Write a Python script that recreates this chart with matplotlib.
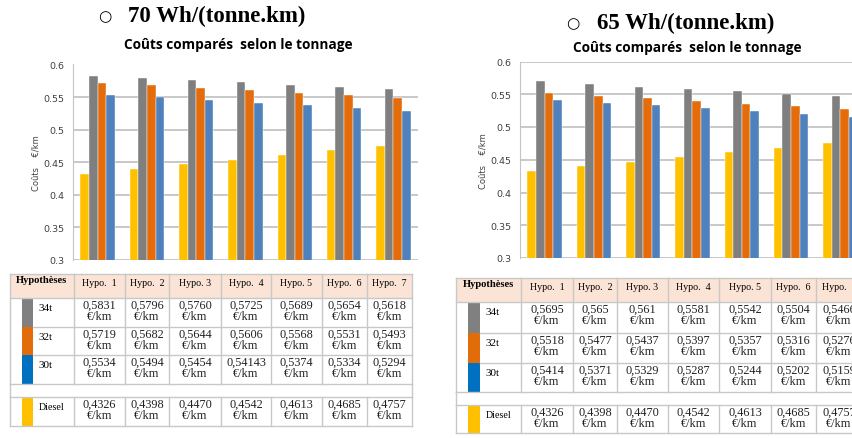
import numpy as np
import matplotlib
matplotlib.use("Agg")
import matplotlib.pyplot as plt
from matplotlib.patches import Rectangle

W, H = 853, 439

hypos = ["Hypo.  1", "Hypo.  2", "Hypo. 3", "Hypo.  4", "Hypo. 5", "Hypo.  6", "Hypo.  7"]
row_names = ["34t", "32t", "30t", "Diesel"]

# table texts (values are read from them)
t70_34 = ["0,5831", "0,5796", "0,5760", "0,5725", "0,5689", "0,5654", "0,5618"]
t70_32 = ["0,5719", "0,5682", "0,5644", "0,5606", "0,5568", "0,5531", "0,5493"]
t70_30 = ["0,5534", "0,5494", "0,5454", "0,54143", "0,5374", "0,5334", "0,5294"]
t_diesel = ["0,4326", "0,4398", "0,4470", "0,4542", "0,4613", "0,4685", "0,4757"]
t65_34 = ["0,5695", "0,565", "0,561", "0,5581", "0,5542", "0,5504", "0,5466"]
t65_32 = ["0,5518", "0,5477", "0,5437", "0,5397", "0,5357", "0,5316", "0,5276"]
t65_30 = ["0,5414", "0,5371", "0,5329", "0,5287", "0,5244", "0,5202", "0,5159"]

bar_cols = {"Diesel": "#ffc000", "34t": "#7f7f7f", "32t": "#e46c0a", "30t": "#4f81bd"}
swatch_cols = ["#808080", "#e36c0a", "#0070c0", "#ffc000"]


def num(lst):
    return [float(s.replace(",", ".")) for s in lst]


fig = plt.figure(figsize=(W / 100, H / 100), dpi=100)
fig.patch.set_facecolor("white")


def px_axes(x0, y0, x1, y1):
    return fig.add_axes([x0 / W, 1 - y1 / H, (x1 - x0) / W, (y1 - y0) / H])


def draw_chart(ax, s34, s32, s30, sd):
    x = np.arange(len(hypos)) + 0.5
    w = 0.175
    series = [("Diesel", sd), ("34t", s34), ("32t", s32), ("30t", s30)]
    for k, (name, vals) in enumerate(series):
        ax.bar(x + (k - 1.5) * w, num(vals), w, color=bar_cols[name],
               edgecolor="white", linewidth=0.3, zorder=3)
    ax.set_xlim(0, len(hypos))
    ax.set_ylim(0.3, 0.6)
    ax.set_yticks([0.3, 0.35, 0.4, 0.45, 0.5, 0.55, 0.6])
    ax.set_yticklabels(["0.3", "0.35", "0.4", "0.45", "0.5", "0.55", "0.6"])
    ax.set_xticks([])
    ax.grid(axis="y", color="#c4c4c4", linewidth=1.3, zorder=0)
    for s in ["top", "right", "bottom"]:
        ax.spines[s].set_visible(False)
    ax.spines["left"].set_color("#c4c4c4")
    ax.tick_params(axis="y", length=0, labelsize=6.8, pad=6, colors="#404040")
    ax.set_ylabel("Coûts    €/km", fontsize=6, color="#404040", labelpad=2)


ax1 = px_axes(73, 65.5, 418, 261)
draw_chart(ax1, t70_34, t70_32, t70_30, t_diesel)
ax2 = px_axes(520, 62.5, 865, 259)
draw_chart(ax2, t65_34, t65_32, t65_30, t_diesel)

# overlay for titles and tables, pixel coordinates
ov = fig.add_axes([0, 0, 1, 1])
ov.set_xlim(0, W)
ov.set_ylim(H, 0)
ov.axis("off")
ov.patch.set_alpha(0)

ov.text(105, 17, "○", fontsize=11, ha="center", va="center", family="DejaVu Sans")
ov.text(128, 16, "70 Wh/(tonne.km)", fontsize=16.5, fontweight="bold",
        family="Liberation Serif", ha="left", va="center")
ov.text(573, 24, "○", fontsize=11, ha="center", va="center", family="DejaVu Sans")
ov.text(597, 23, "65 Wh/(tonne.km)", fontsize=16.5, fontweight="bold",
        family="Liberation Serif", ha="left", va="center")
ov.text(238, 45, "Coûts comparés  selon le tonnage", fontsize=9.8, fontweight="bold",
        family="Open Sans", ha="center", va="center")
ov.text(687, 48, "Coûts comparés  selon le tonnage", fontsize=9.8, fontweight="bold",
        family="Open Sans", ha="center", va="center")


def draw_table(xs, ys, sw, rows):
    lc = "#c8c8c8"
    x0, x1 = xs[0], xs[-1]
    # header fill
    ov.add_patch(Rectangle((x0, ys[0]), x1 - x0, ys[1] - ys[0], facecolor="#fbe4d5",
                           edgecolor="none"))
    # horizontal lines
    for i, y in enumerate(ys):
        start = x0 if i in (0, 1, 4, 5, 6) else sw[1]
        ov.plot([start, x1], [y, y], color=lc, lw=1)
    # vertical lines
    for x in xs:
        ov.plot([x, x], [ys[0], ys[4]], color=lc, lw=1)
        ov.plot([x, x], [ys[5], ys[6]], color=lc, lw=1)
    ov.plot([x0, x0], [ys[4], ys[5]], color=lc, lw=1)
    ov.plot([x1, x1], [ys[4], ys[5]], color=lc, lw=1)
    # header texts
    ov.text((xs[0] + xs[1]) / 2, ys[0] + 6, "Hypothèses", fontsize=7.6, fontweight="bold",
            family="Liberation Serif", ha="center", va="center")
    for j, h in enumerate(hypos):
        ov.text((xs[j + 1] + xs[j + 2]) / 2, ys[0] + 9, h, fontsize=7.2,
                family="Liberation Serif", ha="center", va="center")
    # body
    row_spans = [(ys[1], ys[2]), (ys[2], ys[3]), (ys[3], ys[4]), (ys[5], ys[6])]
    for r, (name, vals) in enumerate(zip(row_names, rows)):
        ya, yb = row_spans[r]
        ov.add_patch(Rectangle((sw[0], ya), sw[1] - sw[0], yb - ya,
                               facecolor=swatch_cols[r], edgecolor="none"))
        ov.text(sw[1] + 6, ya + 10, name, fontsize=8 if name != "Diesel" else 7.2,
                family="Liberation Serif", ha="left", va="center")
        for j, v in enumerate(vals):
            cx = (xs[j + 1] + xs[j + 2]) / 2
            ov.text(cx, ya + 7, v, fontsize=8.8, family="Liberation Serif",
                    ha="center", va="center", color="#222222")
            ov.text(cx, ya + 18, "€/km", fontsize=8.8, family="Liberation Serif",
                    ha="center", va="center", color="#222222")


draw_table([10, 74, 125, 169, 221, 271, 322, 367, 412],
           [275, 299, 328, 356, 385, 398, 427], (22, 33),
           [t70_34, t70_32, t70_30, t_diesel])
draw_table([456, 521, 573, 617, 668, 719, 771, 816, 862],
           [279, 303, 334, 364, 393, 406, 434], (468, 480),
           [t65_34, t65_32, t65_30, t_diesel])

fig.savefig("out.png", dpi=100)
